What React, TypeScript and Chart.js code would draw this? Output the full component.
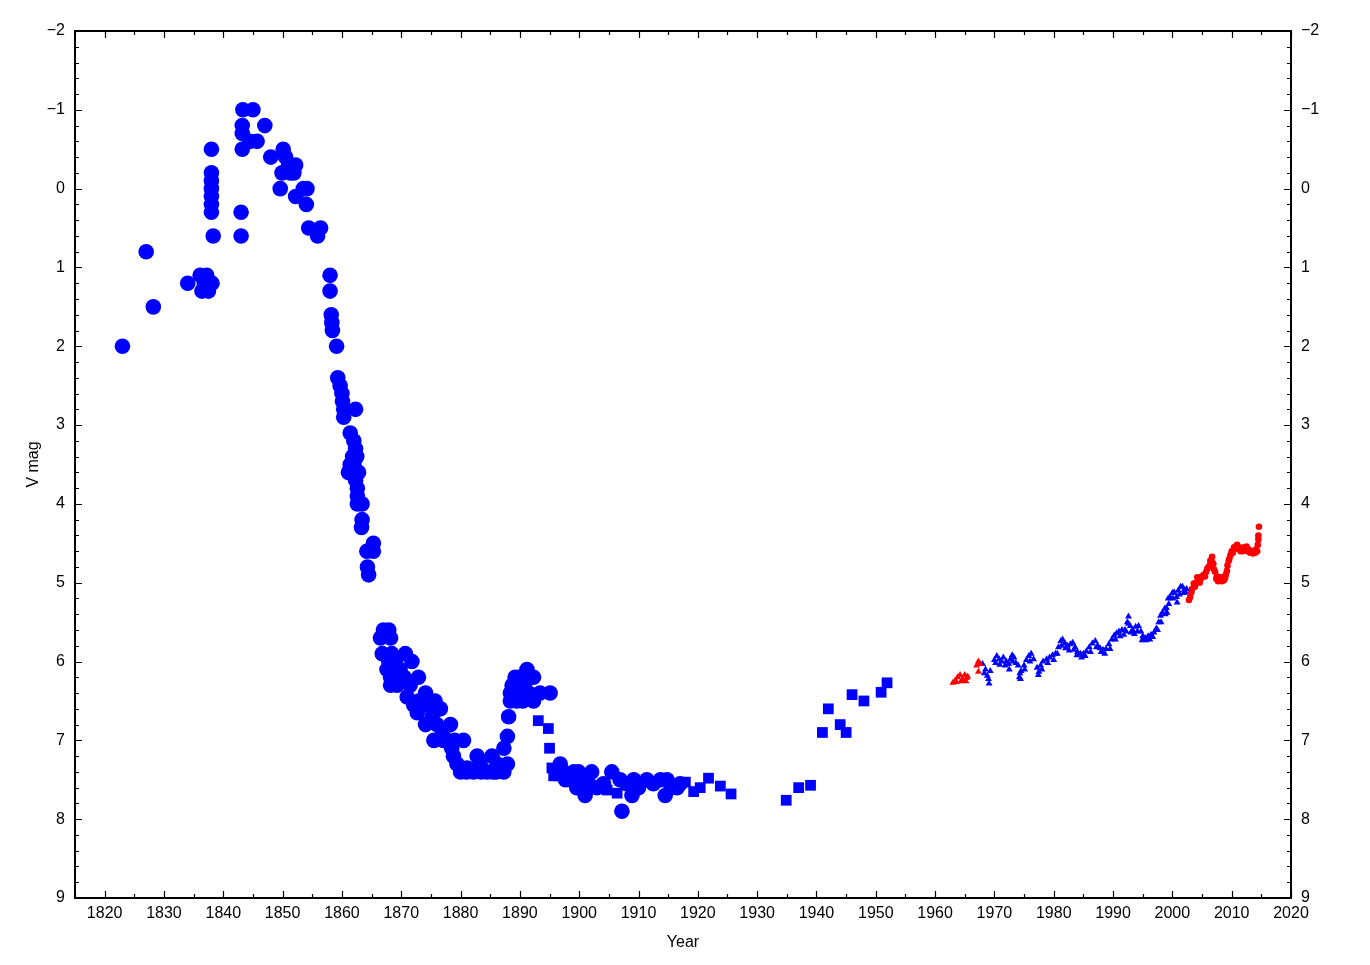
import React, { useEffect, useRef } from "react";
import { Chart, registerables } from "chart.js";

Chart.register(...registerables);

// ---- axis ticks ----
const xTickValues = [1820, 1830, 1840, 1850, 1860, 1870, 1880, 1890, 1900, 1910, 1920, 1930, 1940, 1950, 1960, 1970, 1980, 1990, 2000, 2010, 2020];
const yTickValues = [-2, -1, 0, 1, 2, 3, 4, 5, 6, 7, 8, 9];
const X_MIN = 1815, X_MAX = 2020, Y_MIN = -2, Y_MAX = 9;
const X_MINOR_STEP = 5, Y_MINOR_STEP = 0.2;

// ---- historical visual estimates (large blue circles) ----
const circleYears = [
  1823.0, 1827.0, 1828.2, 1834.0, 1836.1, 1837.2, 1836.4, 1837.5, 1838.1, 1836.8,
  1838.0, 1838.0, 1838.0, 1838.0, 1838.0, 1838.0, 1838.0, 1838.3, 1843.0, 1843.0,
  1843.3, 1845.0, 1843.2, 1843.2, 1843.2, 1844.5, 1845.7, 1847.0, 1848.0, 1850.1,
  1849.6, 1849.9, 1850.5, 1851.0, 1851.3, 1852.2, 1851.9, 1852.2, 1853.5, 1854.1,
  1854.0, 1854.4, 1856.4, 1855.9,
  1858.0, 1858.0, 1858.2, 1858.3, 1858.4, 1859.1, 1859.3, 1859.7, 1860.0, 1860.1,
  1860.3, 1860.3, 1862.3, 1861.4, 1862.0, 1862.3, 1862.5, 1861.4, 1861.1, 1862.8,
  1862.3, 1862.6, 1862.6, 1862.6, 1863.4, 1863.4, 1863.3, 1865.3, 1864.2, 1865.3,
  1864.3, 1864.5, 1862.0, 1861.8,
  1867.0, 1867.9, 1866.5, 1868.2, 1866.8, 1868.4, 1870.7, 1871.8, 1867.9, 1867.6,
  1869.8, 1872.9, 1868.2, 1868.2, 1869.3, 1871.5, 1874.1, 1871.0, 1875.7, 1872.1,
  1874.3, 1876.6, 1872.7, 1875.2, 1874.1, 1878.3, 1876.0, 1875.5, 1877.1, 1880.5,
  1878.5, 1878.8, 1882.8, 1885.3, 1887.3, 1879.4, 1880.0, 1882.2, 1884.5, 1887.3,
  1881.1, 1883.3, 1886.2, 1887.9, 1869.0, 1870.5, 1873.0, 1877.0, 1879.0, 1881.0,
  1883.5, 1885.5, 1886.0,
  1887.9, 1888.1, 1888.7, 1888.4, 1888.4, 1889.2, 1891.2, 1892.3, 1890.6, 1889.5,
  1892.3, 1895.1, 1893.4, 1890.0, 1891.5, 1889.8, 1890.5, 1891.0,
  1896.8, 1897.4, 1899.1, 1899.9, 1902.1, 1905.5, 1897.7, 1899.6, 1901.0, 1901.6,
  1904.1, 1906.9, 1909.2, 1908.9, 1907.2, 1911.4, 1913.7, 1914.8, 1914.5, 1916.5,
  1898.5, 1900.5, 1903.0, 1908.0, 1910.0, 1912.5, 1915.5, 1917.0,
];
const circleMags = [
  2.0, 0.8, 1.5, 1.2, 1.1, 1.1, 1.3, 1.3, 1.2, 1.2,
  -0.5, -0.2, -0.1, 0.0, 0.1, 0.2, 0.3, 0.6, 0.3, 0.6,
  -1.0, -1.0, -0.8, -0.7, -0.5, -0.6, -0.6, -0.8, -0.4, -0.5,
  0.0, -0.2, -0.4, -0.3, -0.2, -0.3, -0.2, 0.1, 0.0, 0.0,
  0.2, 0.5, 0.5, 0.6,
  1.1, 1.3, 1.6, 1.7, 1.8, 2.0, 2.4, 2.5, 2.6, 2.7,
  2.8, 2.9, 2.8, 3.1, 3.2, 3.3, 3.4, 3.5, 3.6, 3.6,
  3.7, 3.8, 3.9, 4.0, 4.0, 4.2, 4.3, 4.5, 4.6, 4.6,
  4.8, 4.9, 3.5, 3.4,
  5.6, 5.6, 5.7, 5.7, 5.9, 5.9, 5.9, 6.0, 6.0, 6.1,
  6.1, 6.2, 6.2, 6.3, 6.3, 6.3, 6.4, 6.45, 6.5, 6.55,
  6.55, 6.6, 6.65, 6.7, 6.8, 6.8, 6.8, 7.0, 7.0, 7.0,
  7.1, 7.2, 7.2, 7.2, 7.1, 7.3, 7.4, 7.4, 7.4, 7.4,
  7.35, 7.3, 7.3, 7.3, 6.0, 6.2, 6.5, 6.9, 7.0, 7.4,
  7.4, 7.4, 7.4,
  6.95, 6.7, 6.3, 6.4, 6.5, 6.2, 6.1, 6.2, 6.3, 6.5,
  6.5, 6.4, 6.4, 6.4, 6.4, 6.2, 6.5, 6.25,
  7.3, 7.4, 7.4, 7.4, 7.4, 7.4, 7.5, 7.6, 7.7, 7.55,
  7.55, 7.5, 7.5, 7.7, 7.9, 7.5, 7.5, 7.5, 7.7, 7.6,
  7.5, 7.5, 7.6, 7.55, 7.6, 7.55, 7.6, 7.55,
];

// ---- photographic / early photoelectric (blue squares) ----
const squareYears = [
  1893.1, 1894.8, 1895.0, 1895.4, 1895.7, 1896.5, 1904.7, 1906.4, 1917.9, 1919.3,
  1920.4, 1921.8, 1923.8, 1925.6, 1934.9, 1937.0, 1939.0, 1941.0, 1942.0, 1944.0,
  1945.0, 1946.0, 1948.0, 1950.9, 1951.9,
];
const squareMags = [
  6.75, 6.85, 7.1, 7.35, 7.45, 7.45, 7.63, 7.67, 7.53, 7.65,
  7.6, 7.48, 7.58, 7.68, 7.76, 7.6, 7.57, 6.9, 6.6, 6.8,
  6.9, 6.42, 6.5, 6.39, 6.27,
];

// ---- 1960s photoelectric (red triangles) ----
const redTriYears = [1963.0, 1963.4, 1963.8, 1964.2, 1964.6, 1965.0, 1965.3, 1965.5, 1967.0, 1967.3, 1967.3, 1967.6, 1963.6, 1964.4, 1965.2];
const redTriMags = [6.27, 6.24, 6.2, 6.17, 6.22, 6.17, 6.21, 6.19, 6.05, 6.0, 6.13, 6.03, 6.26, 6.25, 6.25];

// ---- photoelectric 1968-2002 (blue triangles) ----
const blueTriYears = [
  1968.0, 1968.5, 1968.8, 1969.0, 1969.3, 1970.0, 1970.4, 1970.8, 1971.2, 1971.5,
  1972.0, 1972.4, 1972.7, 1973.0, 1973.3, 1973.6, 1974.0, 1974.3, 1974.5, 1975.0,
  1975.4, 1975.8, 1976.2, 1976.6, 1977.2, 1977.5, 1977.8, 1978.2, 1978.8, 1979.3,
  1979.8, 1980.3, 1980.8, 1981.2, 1981.5, 1981.9, 1982.3, 1982.8, 1983.2, 1983.6,
  1984.0, 1984.5, 1985.0, 1985.5, 1986.0, 1986.5, 1987.0, 1987.4, 1987.8, 1988.3,
  1988.8, 1989.3, 1989.8, 1990.2, 1990.6, 1991.0, 1991.5, 1992.0, 1992.4, 1992.6,
  1992.9, 1993.3, 1993.8, 1994.3, 1994.7, 1995.0, 1995.4, 1995.9, 1996.4, 1996.9,
  1997.3, 1997.7, 1998.0, 1998.3, 1998.7, 1999.0, 1999.3, 1999.6, 2000.0, 2000.3,
  2000.7, 2001.0, 2001.4, 2001.7, 2002.0, 2002.4,
  1968.3, 1969.1, 1970.2, 1970.9, 1971.8, 1972.5, 1973.1, 1974.2, 1974.4, 1975.1,
  1976.0, 1977.4, 1978.0, 1979.0, 1980.0, 1980.6, 1981.3, 1982.0, 1982.6, 1983.4,
  1983.9, 1984.7, 1985.3, 1986.2, 1987.2, 1988.0, 1988.6, 1989.5, 1990.4, 1991.2,
  1991.8, 1992.2, 1992.6, 1993.0, 1993.6, 1994.1, 1994.9, 1995.6, 1996.2, 1996.7,
  1997.5, 1998.1, 1998.8, 1999.4, 1999.1, 2000.1, 2000.8, 2001.2, 2001.9, 2002.2,
];
const blueTriMags = [
  6.03, 6.1, 6.18, 6.22, 6.12, 5.98, 5.93, 5.97, 6.0, 5.95,
  6.0, 6.03, 5.97, 5.92, 5.95, 6.02, 6.05, 6.15, 6.12, 6.05,
  5.98, 5.93, 5.9, 5.97, 6.08, 6.13, 6.05, 6.0, 5.97, 5.95,
  5.92, 5.9, 5.82, 5.74, 5.72, 5.77, 5.8, 5.78, 5.76, 5.82,
  5.88, 5.9, 5.9, 5.87, 5.82, 5.77, 5.74, 5.8, 5.83, 5.85,
  5.84, 5.78, 5.72, 5.67, 5.64, 5.62, 5.6, 5.6, 5.5, 5.43,
  5.55, 5.6, 5.56, 5.55, 5.62, 5.68, 5.7, 5.68, 5.66, 5.63,
  5.58, 5.5, 5.42, 5.38, 5.33, 5.32, 5.2, 5.18, 5.13, 5.12,
  5.18, 5.1, 5.05, 5.05, 5.09, 5.08,
  6.15, 6.28, 6.02, 6.04, 6.05, 6.1, 6.0, 6.2, 6.22, 6.1,
  6.0, 6.17, 6.1, 6.02, 5.98, 5.9, 5.8, 5.83, 5.86, 5.85,
  5.92, 5.95, 5.93, 5.88, 5.82, 5.88, 5.9, 5.84, 5.72, 5.68,
  5.66, 5.62, 5.52, 5.63, 5.65, 5.62, 5.73, 5.73, 5.72, 5.69,
  5.6, 5.5, 5.4, 5.27, 5.38, 5.2, 5.25, 5.15, 5.13, 5.12,
];

// ---- CCD 2003-2014 (red dots) ----
const redDotYears = [
  2002.8, 2003.0, 2003.3, 2003.6, 2004.0, 2004.4, 2004.8, 2005.3, 2005.7, 2006.1,
  2006.4, 2006.7, 2006.9, 2007.2, 2007.5, 2007.9, 2008.3, 2008.7, 2009.0, 2009.3,
  2009.6, 2010.0, 2010.4, 2010.9, 2011.3, 2011.7, 2012.1, 2012.5, 2012.9, 2013.4,
  2013.8, 2014.1, 2014.4, 2014.5, 2014.5, 2014.6,
  2003.2, 2003.8, 2004.2, 2004.6, 2005.0, 2005.5, 2005.9, 2006.3, 2006.6, 2007.0,
  2007.4, 2007.7, 2008.1, 2008.5, 2008.9, 2009.2, 2009.5, 2009.8, 2010.2, 2010.6,
  2011.0, 2011.5, 2011.9, 2012.3, 2012.7, 2013.1, 2013.6, 2014.0, 2014.3,
];
const redDotMags = [
  5.22, 5.18, 5.08, 5.01, 5.0, 4.97, 4.95, 4.9, 4.86, 4.8,
  4.72, 4.67, 4.76, 4.86, 4.92, 4.96, 4.98, 4.97, 4.9, 4.78,
  4.7, 4.6, 4.55, 4.52, 4.55, 4.57, 4.55, 4.54, 4.58, 4.6,
  4.6, 4.58, 4.52, 4.45, 4.4, 4.29,
  5.12, 5.05, 4.93, 5.0, 4.92, 4.92, 4.82, 4.78, 4.72, 4.83,
  4.95, 4.98, 4.93, 4.93, 4.94, 4.85, 4.72, 4.65, 4.62, 4.55,
  4.57, 4.6, 4.6, 4.58, 4.6, 4.62, 4.63, 4.62, 4.6,
];

const BLUE = "#0000ff";
const RED = "#ff0000";
const FONT = { family: "'Liberation Sans', Arial, Helvetica, sans-serif", size: 16 };

const toPoints = (xs: number[], ys: number[]) => xs.map((x, i) => ({ x, y: ys[i] }));

const fmt = (v: number) => (v < 0 ? "\u2212" + Math.abs(v) : String(v));

const frameTicks = {
  id: "frameTicks",
  afterDraw(chart: any) {
    const { ctx, chartArea: a, scales } = chart;
    const sx = scales.x, sy = scales.y;
    const MAJ = 7, MIN = 4;
    ctx.save();
    ctx.strokeStyle = "#000";
    ctx.lineWidth = 1.2;
    ctx.beginPath();
    for (let v = X_MIN; v <= X_MAX + 1e-9; v += X_MINOR_STEP) {
      const p = Math.round(sx.getPixelForValue(v)) + 0.5;
      const len = xTickValues.includes(v) ? MAJ : MIN;
      ctx.moveTo(p, a.bottom); ctx.lineTo(p, a.bottom - len);
      ctx.moveTo(p, a.top); ctx.lineTo(p, a.top + len);
    }
    const n = Math.round((Y_MAX - Y_MIN) / Y_MINOR_STEP);
    for (let i = 0; i <= n; i++) {
      const v = Y_MIN + i * Y_MINOR_STEP;
      const p = Math.round(sy.getPixelForValue(v)) + 0.5;
      const len = i % 5 === 0 ? MAJ : MIN;
      ctx.moveTo(a.left, p); ctx.lineTo(a.left + len, p);
      ctx.moveTo(a.right, p); ctx.lineTo(a.right - len, p);
    }
    ctx.stroke();
    ctx.lineWidth = 2;
    ctx.strokeRect(a.left, a.top, a.right - a.left, a.bottom - a.top);
    ctx.restore();
  },
};

export default function App() {
  const ref = useRef<HTMLCanvasElement | null>(null);
  useEffect(() => {
    document.body.style.margin = "0";
    if (!ref.current) return;
    const yScaleBase = (pos: "left" | "right", w: number) => ({
      type: "linear" as const,
      position: pos,
      reverse: true,
      min: Y_MIN,
      max: Y_MAX,
      grid: { display: false, drawTicks: false },
      border: { display: false },
      afterBuildTicks: (s: any) => { s.ticks = yTickValues.map((value) => ({ value })); },
      afterFit: (s: any) => { s.width = w; },
      ticks: { color: "#000", font: FONT, padding: 10, callback: (v: any) => fmt(Number(v)) },
    });
    const chart = new Chart(ref.current, {
      type: "scatter",
      data: {
        datasets: [
          { data: toPoints(circleYears, circleMags), pointStyle: "circle", pointRadius: 7.8, backgroundColor: BLUE, borderWidth: 0, pointBorderWidth: 0 },
          { data: toPoints(squareYears, squareMags), pointStyle: "rect", pointRadius: 7.6, backgroundColor: BLUE, borderWidth: 0, pointBorderWidth: 0 },
          { data: toPoints(redTriYears, redTriMags), pointStyle: "triangle", pointRadius: 4, backgroundColor: RED, borderWidth: 0, pointBorderWidth: 0 },
          { data: toPoints(blueTriYears, blueTriMags), pointStyle: "triangle", pointRadius: 4, backgroundColor: BLUE, borderWidth: 0, pointBorderWidth: 0 },
          { data: toPoints(redDotYears, redDotMags), pointStyle: "circle", pointRadius: 3.3, backgroundColor: RED, borderWidth: 0, pointBorderWidth: 0 },
        ],
      },
      options: {
        responsive: false,
        animation: false,
        devicePixelRatio: 1,
        layout: { padding: { top: 31, left: 0, right: 0, bottom: 0 } },
        plugins: { legend: { display: false }, tooltip: { enabled: false } },
        scales: {
          x: {
            type: "linear",
            position: "bottom",
            min: X_MIN,
            max: X_MAX,
            grid: { display: false, drawTicks: false },
            border: { display: false },
            afterBuildTicks: (s: any) => { s.ticks = xTickValues.map((value) => ({ value })); },
            afterFit: (s: any) => { s.height = 67; },
            ticks: { color: "#000", font: FONT, padding: 6, maxRotation: 0, autoSkip: false, callback: (v: any) => String(v) },
            title: { display: true, text: "Year", color: "#000", font: FONT, padding: { top: 0, bottom: 13 } },
          },
          y: {
            ...yScaleBase("left", 75),
            title: { display: true, text: "V mag", color: "#000", font: FONT, padding: { top: 24, bottom: 0 } },
          },
          y2: yScaleBase("right", 79),
        },
      },
      plugins: [frameTicks],
    } as any);
    return () => chart.destroy();
  }, []);
  return (
    <div style={{ width: 1370, height: 965, background: "#fff" }}>
      <canvas ref={ref} width={1370} height={965} style={{ display: "block" }} />
    </div>
  );
}
